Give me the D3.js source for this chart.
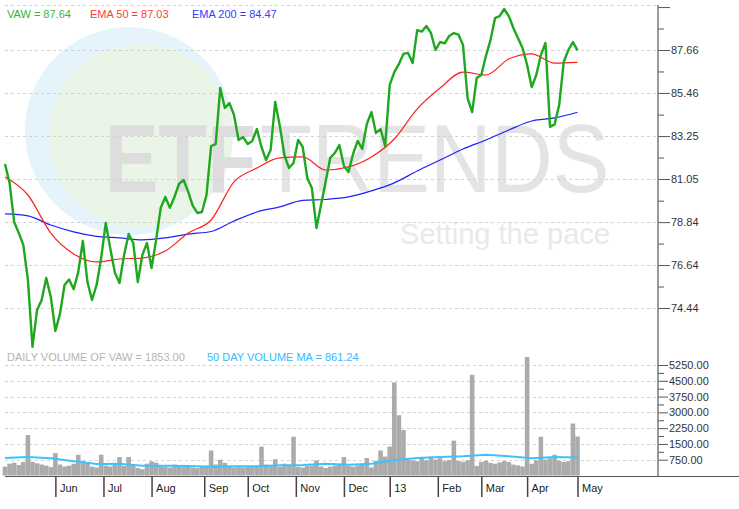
<!DOCTYPE html>
<html><head><meta charset="utf-8">
<script src="https://cdn.jsdelivr.net/npm/d3@7"></script>
<style>
body{margin:0;background:#fff;}
svg{display:block;font-family:"Liberation Sans",Arial,sans-serif;}
</style>
</head><body>
<svg id="c" width="739" height="509"></svg>
<script>
// ---------- DATA ----------
const holidays = ["2012-05-28","2012-07-04","2012-09-03","2012-10-29","2012-10-30","2012-11-22",
  "2012-12-25","2013-01-01","2013-01-21","2013-02-18","2013-03-29"];
// closing price, every 2nd trading day from 2012-05-01
const price = [81.82,80.85,78.85,78.29,77.67,75.88,72.45,74.34,74.85,75.98,
75.01,73.26,74.14,75.62,75.90,75.40,76.29,77.88,75.77,74.85,
75.62,77.00,78.80,77.47,76.24,75.72,77.16,78.23,77.77,75.77,
77.16,77.77,76.49,77.93,79.57,80.13,79.57,80.13,80.80,81.00,
80.39,79.67,79.31,79.36,80.23,82.74,82.84,85.71,84.69,84.94,
84.33,83.05,83.20,82.84,83.00,83.61,82.69,82.02,82.54,85.00,
83.77,82.28,81.61,81.87,83.05,82.69,81.10,80.59,78.54,79.72,
80.90,82.13,82.38,82.79,81.72,81.41,82.33,83.00,82.59,83.87,
84.48,83.41,83.61,82.74,85.87,86.53,86.94,87.46,87.51,86.99,
88.68,88.60,88.89,88.53,87.66,88.07,88.00,88.38,88.53,88.45,
87.92,85.20,84.48,86.23,86.38,87.35,88.17,89.30,89.40,89.76,
89.40,88.79,88.27,87.76,86.89,85.76,86.38,87.40,88.02,83.72,
83.85,84.84,87.05,87.66,88.07,87.64];
// EMA values every 10th trading day
const ema50 = [81.15,80.23,78.28,77.21,76.80,76.95,77.00,77.36,78.28,78.95,
80.90,81.61,82.13,82.18,81.51,81.67,82.18,83.10,84.64,85.71,
86.53,86.38,87.20,87.46,86.99,87.03];
const ema200 = [79.26,79.16,78.69,78.34,78.11,78.03,77.93,78.03,78.23,78.36,
78.90,79.36,79.62,79.95,80.00,80.13,80.44,80.85,81.46,82.02,
82.59,83.05,83.56,84.02,84.18,84.47];
// volume, every 2nd trading day
const volume = [420,560,610,500,640,1923,650,580,520,470,400,
1065,520,430,470,560,985,700,640,420,380,
985,470,430,500,877,460,877,520,360,300,
560,671,610,450,420,380,520,460,400,440,
380,350,420,470,1187,520,750,600,430,380,
400,380,440,420,470,1374,520,450,773,420,
560,500,1843,420,380,450,470,718,430,360,
420,470,500,877,460,420,480,520,830,380,
700,1187,900,1374,4423,2861,2157,780,720,680,
880,720,900,760,820,680,740,1656,700,650,
720,4784,460,650,700,600,560,620,680,640,
520,480,430,5628,560,720,1843,760,820,985,
700,640,680,2471,1853];
// 50-day volume MA, every 10th trading day
const volumeMA = [830,877,820,680,549,563,469,469,446,413,
436,436,492,502,553,516,553,727,830,882,
915,985,915,820,877,861];
const priceTicks = [74.44,76.64,78.84,81.05,83.25,85.46,87.66];
const priceTickLabels = ["74.44","76.64","78.84","81.05","83.25","85.46","87.66"];
const volTicks = [750,1500,2250,3000,3750,4500,5250];
const volTickLabels = ["750.00","1500.00","2250.00","3000.00","3750.00","4500.00","5250.00"];
const monthLabels = ["Jun","Jul","Aug","Sep","Oct","Nov","Dec","13","Feb","Mar","Apr","May"];
const legendPrice = ["VAW = 87.64","EMA 50 = 87.03","EMA 200 = 84.47"];
const legendVolume = ["DAILY VOLUME OF VAW = 1853.00","50 DAY VOLUME MA = 861.24"];

// ---------- trading calendar ----------
const days = [];
for (let d = new Date(Date.UTC(2012,4,1)); d <= new Date(Date.UTC(2013,4,1)); d.setUTCDate(d.getUTCDate()+1)) {
  const wd = d.getUTCDay(), s = d.toISOString().slice(0,10);
  if (wd === 0 || wd === 6 || holidays.includes(s)) continue;
  days.push(new Date(d));
}
const monthIdx = [];
days.forEach((d,i)=>{ if (i>0 && d.getUTCMonth() !== days[i-1].getUTCMonth()) monthIdx.push(i); });

// ---------- scales ----------
const svg = d3.select("#c");
const x = d3.scaleLinear().domain([0, days.length-1]).range([5, 577.5]);
const yP = d3.scaleLinear().domain([72.80, 89.966]).range([340, 5]);
const yV = d3.scaleLinear().domain([0, 5250]).range([475.5, 365]);
const axisX = 658;

// ---------- watermark ----------
const wm = svg.append("g");
wm.append("circle").attr("cx",129).attr("cy",131).attr("r",104).attr("fill","#e5f3fb");
wm.append("circle").attr("cx",141).attr("cy",136).attr("r",92).attr("fill","#ebf5e7");
wm.append("text").attr("transform","translate(105,192) scale(1,1.2)").attr("font-size",80).attr("font-weight",900)
  .attr("fill","#dddddd").text("ETF");
wm.append("text").attr("transform","translate(260,192) scale(1,1.13)").attr("font-size",85)
  .attr("fill","#e4e4e4").text("TRENDS");
wm.append("text").attr("x",400).attr("y",244).attr("font-size",29)
  .attr("fill","#e9e9e9").attr("textLength",210).attr("lengthAdjust","spacingAndGlyphs").text("Setting the pace");

// ---------- grid ----------
const grid = svg.append("g").attr("stroke","#d2d2d2").attr("stroke-dasharray","3,3").attr("stroke-width",1);
grid.append("line").attr("x1",5).attr("x2",axisX).attr("y1",5.5).attr("y2",5.5);
priceTicks.forEach(v=>grid.append("line").attr("x1",5).attr("x2",axisX).attr("y1",Math.round(yP(v))+0.5).attr("y2",Math.round(yP(v))+0.5));
volTicks.forEach(v=>grid.append("line").attr("x1",5).attr("x2",axisX).attr("y1",Math.round(yV(v))+0.5).attr("y2",Math.round(yV(v))+0.5));

// ---------- volume ----------
const bw = x(2)-x(0);
svg.append("g").selectAll("rect").data(volume).join("rect")
  .attr("x",(d,k)=>x(2*k)-bw/2).attr("width",bw)
  .attr("y",d=>yV(d)).attr("height",d=>yV(0)-yV(d))
  .attr("fill","#ababab");
svg.append("path").datum(volumeMA)
  .attr("d", d3.line().x((d,j)=>x(10*j)).y(d=>yV(d)))
  .attr("fill","none").attr("stroke","#3cc3ff").attr("stroke-width",2);

// ---------- price lines ----------
svg.append("path").datum(ema200)
  .attr("d", d3.line().x((d,j)=>x(10*j)).y(d=>yP(d)).curve(d3.curveMonotoneX))
  .attr("fill","none").attr("stroke","#2020ff").attr("stroke-width",1.2);
svg.append("path").datum(ema50)
  .attr("d", d3.line().x((d,j)=>x(10*j)).y(d=>yP(d)).curve(d3.curveMonotoneX))
  .attr("fill","none").attr("stroke","#ff2020").attr("stroke-width",1.2);
svg.append("path").datum(price)
  .attr("d", d3.line().x((d,k)=>x(2*k)).y(d=>yP(d)))
  .attr("fill","none").attr("stroke","#1ea81e").attr("stroke-width",2.4).attr("stroke-linejoin","round");

// ---------- axes ----------
const step = priceTicks[1]-priceTicks[0];
const minorP = priceTicks.map(v=>v+step/2);
const topTick = priceTicks[priceTicks.length-1]+step;
const gP = svg.append("g").attr("transform",`translate(${axisX},0)`)
  .call(d3.axisRight(yP).tickValues(priceTicks).tickFormat((d,i)=>priceTickLabels[i]).tickSize(12).tickSizeOuter(0).tickPadding(1));
gP.append("g").call(d3.axisRight(yP).tickValues(minorP).tickFormat("").tickSize(6).tickSizeOuter(0));
gP.append("g").call(d3.axisRight(yP).tickValues([topTick]).tickFormat("").tickSize(12).tickSizeOuter(0));
const vstep = volTicks[1]-volTicks[0];
const gV = svg.append("g").attr("transform",`translate(${axisX},0)`)
  .call(d3.axisRight(yV).tickValues(volTicks).tickFormat((d,i)=>volTickLabels[i]).tickSize(10).tickSizeOuter(0).tickPadding(1));
gV.append("g").call(d3.axisRight(yV).tickValues(volTicks.slice(0,-1).map(v=>v+vstep/2)).tickFormat("").tickSize(6).tickSizeOuter(0));
svg.selectAll(".domain").remove();
svg.selectAll(".tick line").attr("stroke","#555");
svg.selectAll(".tick text").attr("fill","#333").attr("font-size",11).attr("font-family","Liberation Sans, Arial, sans-serif");
svg.append("line").attr("x1",axisX).attr("x2",axisX).attr("y1",5).attr("y2",476).attr("stroke","#7a7a7a").attr("stroke-width",1.5);

const gX = svg.append("g").attr("transform","translate(0,476)")
  .call(d3.axisBottom(x).tickValues(monthIdx).tickFormat((d,i)=>monthLabels[i]).tickSize(21).tickSizeOuter(0));
gX.select(".domain").remove();
gX.selectAll(".tick line").attr("stroke","#444").attr("stroke-width",1.5);
gX.selectAll(".tick text").attr("text-anchor","start").attr("x",4).attr("y",8).attr("dy","0.71em")
  .attr("fill","#222").attr("font-size",11).attr("font-family","Liberation Sans, Arial, sans-serif");
svg.append("line").attr("x1",5).attr("x2",739).attr("y1",476.5).attr("y2",476.5).attr("stroke","#555").attr("stroke-width",1);

// ---------- legends ----------
const lc = ["#35b535","#ff3a3a","#3a3aff"], lx = [7,90,192];
legendPrice.forEach((t,i)=>svg.append("text").attr("x",lx[i]).attr("y",18).attr("font-size",11).attr("fill",lc[i]).text(t));
const vc = ["#b4b4b4","#33baff"], vx = [7,207];
legendVolume.forEach((t,i)=>svg.append("text").attr("x",vx[i]).attr("y",361).attr("font-size",11).attr("fill",vc[i]).text(t));
</script>
</body></html>
